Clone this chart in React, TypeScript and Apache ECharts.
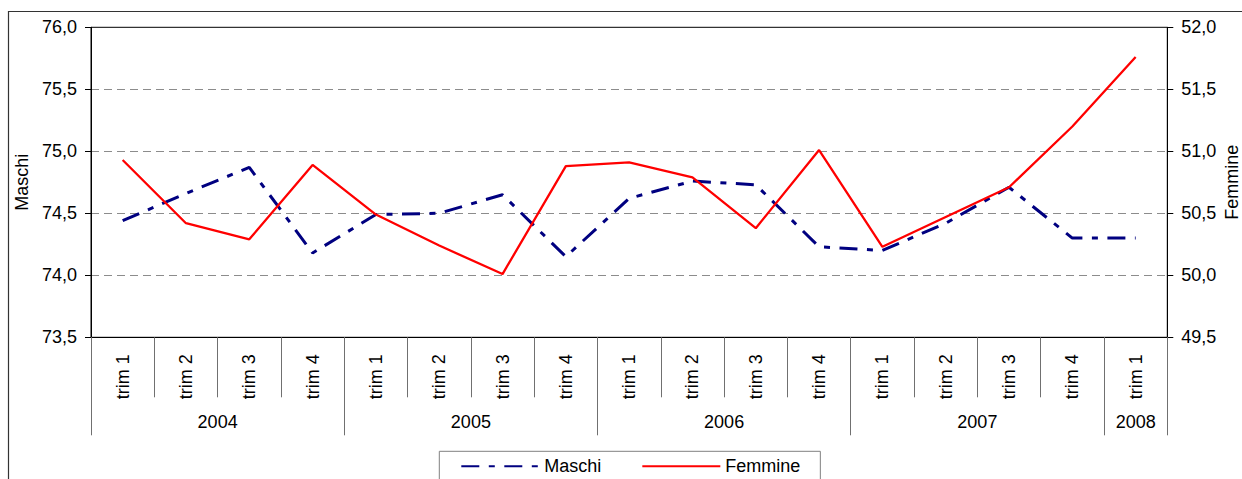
import React, { useEffect, useRef } from "react";
import * as echarts from "echarts";

const quarterLabels = [
  "trim 1", "trim 2", "trim 3", "trim 4",
  "trim 1", "trim 2", "trim 3", "trim 4",
  "trim 1", "trim 2", "trim 3", "trim 4",
  "trim 1", "trim 2", "trim 3", "trim 4",
  "trim 1",
];
const years = ["2004", "2005", "2006", "2007", "2008"];
const quartersPerYear = [4, 4, 4, 4, 1];

const maschi = [
  74.44, 74.66, 74.87, 74.18,
  74.49, 74.5, 74.65, 74.15,
  74.62, 74.76, 74.73, 74.23,
  74.2, 74.42, 74.71, 74.3,
  74.3,
];
const femmine = [
  50.93, 50.42, 50.29, 50.89,
  50.49, 50.24, 50.01, 50.88,
  50.91, 50.79, 50.38, 51.01,
  50.23, 50.47, 50.71, 51.2,
  51.76,
];

const leftTicks = { min: 73.5, max: 76, interval: 0.5 };
const rightTicks = { min: 49.5, max: 52, interval: 0.5 };

const FONT = "'Liberation Sans', Arial, sans-serif";

// half-quarter positions for the year level of the axis
const yearAxisData: string[] = [];
const yearBoundaries: number[] = [0];
{
  let pos = 0;
  years.forEach((y, i) => {
    pos += quartersPerYear[i] * 2;
    yearBoundaries.push(pos);
  });
  for (let k = 0; k <= pos; k++) yearAxisData.push("");
  let start = 0;
  years.forEach((y, i) => {
    const end = start + quartersPerYear[i] * 2;
    yearAxisData[Math.round((start + end) / 2)] = y;
    start = end;
  });
}

const fmt = (v: number) => v.toFixed(1).replace(".", ",");

export default function App() {
  const ref = useRef<HTMLDivElement>(null);
  useEffect(() => {
    if (!ref.current) return;
    const chart = echarts.init(ref.current, undefined, { renderer: "svg" });
    chart.setOption({
      animation: false,
      backgroundColor: "#ffffff",
      textStyle: { fontFamily: FONT },
      grid: {
        left: 91,
        top: 27.3,
        width: 1076.3,
        height: 310,
        containLabel: false,
        outerBoundsMode: "none",
        show: true,
        borderColor: "#000",
        borderWidth: 1,
        backgroundColor: "transparent",
      },
      graphic: [
        {
          type: "rect",
          silent: true,
          z: -1,
          shape: { x: 8.5, y: 11.5, width: 1400, height: 600 },
          style: { fill: "none", stroke: "#333", lineWidth: 1.2 },
        },
      ],
      legend: {
        data: ["Maschi", "Femmine"],
        left: 439.3,
        top: 451.3,
        orient: "horizontal",
        itemWidth: 78,
        itemHeight: 14,
        itemGap: 40,
        padding: [6, 20, 30, 21],
        borderColor: "#808080",
        borderWidth: 1,
        itemStyle: { opacity: 0 },
        textStyle: { fontSize: 18, color: "#000", fontFamily: FONT },
      },
      xAxis: [
        {
          type: "category",
          data: quarterLabels,
          boundaryGap: true,
          position: "bottom",
          axisLine: { show: true, lineStyle: { color: "#000", width: 1 } },
          axisTick: {
            show: true,
            length: 60,
            interval: 0,
            lineStyle: { color: "#707070", width: 1 },
          },
          axisLabel: {
            interval: 0,
            rotate: 90,
            margin: 17,
            fontSize: 18,
            color: "#000",
            fontFamily: FONT,
          },
          splitLine: { show: false },
        },
        {
          type: "category",
          data: yearAxisData,
          boundaryGap: false,
          position: "bottom",
          axisLine: { show: false },
          axisTick: {
            show: true,
            length: 98,
            interval: (idx: number) => yearBoundaries.indexOf(idx) >= 0,
            lineStyle: { color: "#707070", width: 1 },
          },
          axisLabel: {
            interval: 0,
            margin: 76,
            fontSize: 18,
            lineHeight: 18,
            color: "#000",
            fontFamily: FONT,
          },
          splitLine: { show: false },
        },
      ],
      yAxis: [
        {
          type: "value",
          position: "left",
          min: leftTicks.min,
          max: leftTicks.max,
          interval: leftTicks.interval,
          name: "Maschi",
          nameLocation: "middle",
          nameGap: 59,
          nameTextStyle: { fontSize: 18, color: "#000", fontFamily: FONT },
          axisLine: { show: true, lineStyle: { color: "#000", width: 1 } },
          axisTick: { show: true, length: 6, lineStyle: { color: "#000" } },
          axisLabel: {
            formatter: fmt,
            fontSize: 18,
            margin: 14,
            color: "#000",
            fontFamily: FONT,
          },
          splitLine: {
            show: true,
            lineStyle: {
              color: ["transparent", "#8c8c8c", "#8c8c8c", "#8c8c8c", "#8c8c8c", "transparent"],
              type: [8, 5],
              width: 1,
            },
          },
        },
        {
          type: "value",
          position: "right",
          min: rightTicks.min,
          max: rightTicks.max,
          interval: rightTicks.interval,
          name: "Femmine",
          nameLocation: "middle",
          nameGap: 56,
          nameMoveOverlap: false,
          nameTextStyle: { fontSize: 18, color: "#000", fontFamily: FONT },
          axisLine: { show: true, lineStyle: { color: "#000", width: 1 } },
          axisTick: { show: true, length: 6, lineStyle: { color: "#000" } },
          axisLabel: {
            formatter: fmt,
            fontSize: 18,
            margin: 14,
            color: "#000",
            fontFamily: FONT,
          },
          splitLine: { show: false },
        },
      ],
      series: [
        {
          name: "Maschi",
          type: "line",
          xAxisIndex: 0,
          yAxisIndex: 0,
          data: maschi,
          symbol: "none",
          color: "#000080",
          lineStyle: { color: "#000080", width: 3, type: [18, 9.5, 6, 9.5], cap: "butt" },
          z: 3,
        },
        {
          name: "Femmine",
          type: "line",
          xAxisIndex: 0,
          yAxisIndex: 1,
          data: femmine,
          symbol: "none",
          color: "#ff0000",
          lineStyle: { color: "#ff0000", width: 2.3 },
          z: 4,
        },
      ],
    });
    return () => chart.dispose();
  }, []);
  return (
    <div
      ref={ref}
      style={{ position: "fixed", left: 0, top: 0, width: 1242, height: 479 }}
    />
  );
}
